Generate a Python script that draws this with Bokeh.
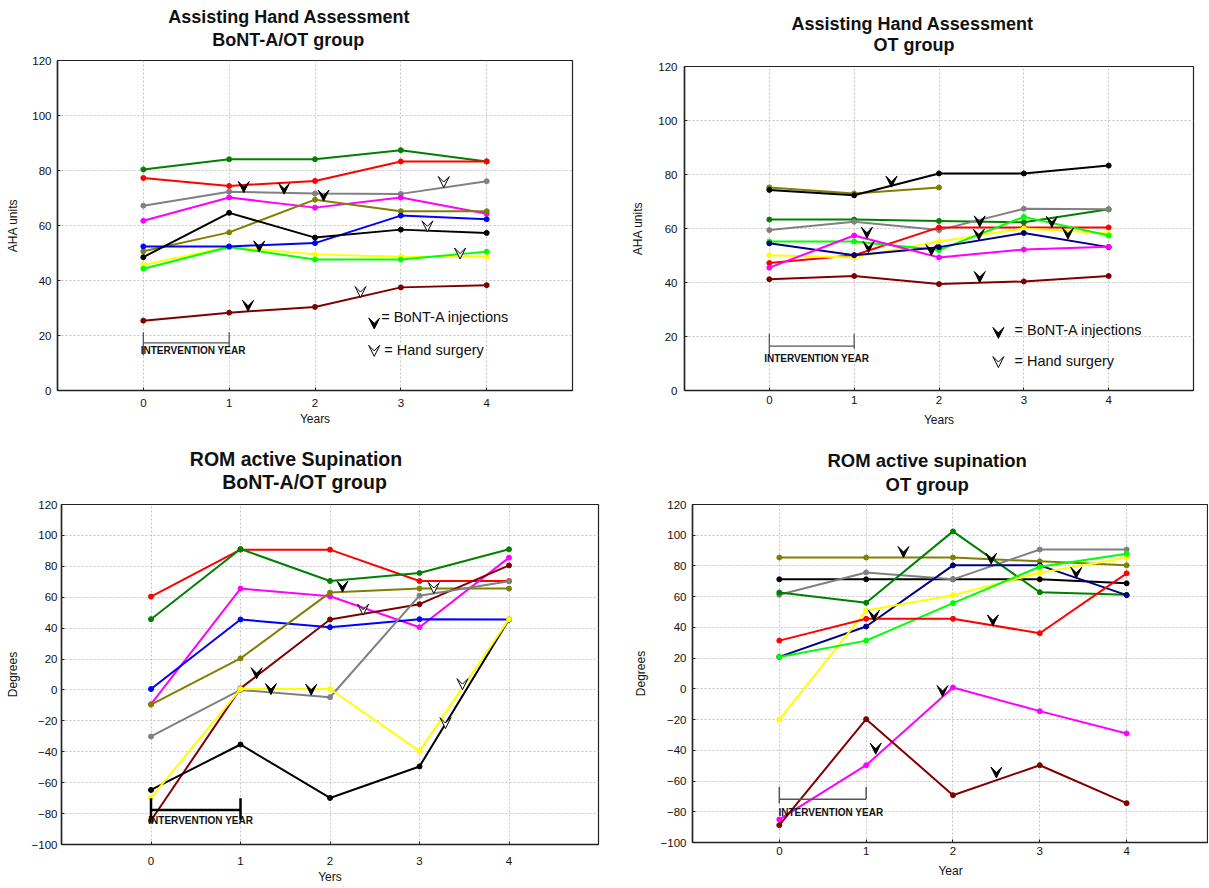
from bokeh.plotting import figure
from bokeh.layouts import column, row
from bokeh.models import Range1d, FixedTicker, Label, Arrow, VeeHead, ColumnDataSource
from bokeh.embed import file_html
from bokeh.resources import INLINE

# ---------------- data ----------------
years = [0, 1, 2, 3, 4]
x_ticks = [0, 1, 2, 3, 4]
aha_ticks = [0, 20, 40, 60, 80, 100, 120]
rom_ticks = [-100, -80, -60, -40, -20, 0, 20, 40, 60, 80, 100, 120]
intervention_year = [0, 1]

# Assisting Hand Assessment, BoNT-A/OT group
aha_bont_gray = [67.2, 72.3, 71.6, 71.5, 76.1]
aha_bont_green = [80.4, 84.1, 84.1, 87.4, 83.3]
aha_bont_red = [77.3, 74.4, 76.2, 83.3, 83.3]
aha_bont_magenta = [61.7, 70.2, 66.5, 70.2, 64.3]
aha_bont_olive = [50.6, 57.5, 69.4, 65.2, 65.2]
aha_bont_yellow = [45.6, 52.3, 49.5, 48.6, 48.6]
aha_bont_lime = [44.3, 52.2, 47.6, 47.6, 50.5]
aha_bont_blue = [52.4, 52.4, 53.6, 63.6, 62.3]
aha_bont_black = [48.5, 64.6, 55.6, 58.5, 57.3]
aha_bont_maroon = [25.4, 28.3, 30.4, 37.5, 38.3]
aha_bont_inj_x = [1.17, 1.64, 2.10, 1.35, 1.22]
aha_bont_inj_y = [72.0, 71.4, 68.9, 50.4, 28.8]
aha_bont_surg_x = [3.50, 3.31, 3.69, 2.53]
aha_bont_surg_y = [73.8, 57.7, 47.8, 33.8]

# Assisting Hand Assessment, OT group
aha_ot_olive = [75.2, 73.0, 75.2]
aha_ot_black = [74.3, 72.3, 80.4, 80.4, 83.3]
aha_ot_green = [63.3, 63.3, 62.8, 62.3, 67.1]
aha_ot_gray = [59.4, 62.5, 59.4, 67.3, 67.1]
aha_ot_red = [47.2, 50.1, 60.4, 60.4, 60.4]
aha_ot_yellow = [50.1, 49.3, 55.2, 60.0, 58.2]
aha_ot_lime = [55.2, 55.2, 52.0, 64.3, 57.4]
aha_ot_navy = [54.5, 50.1, 53.1, 58.3, 53.1]
aha_ot_magenta = [45.5, 57.4, 49.3, 52.2, 53.2]
aha_ot_maroon = [41.2, 42.4, 39.4, 40.4, 42.4]
aha_ot_inj_x = [1.44, 2.48, 3.33, 1.15, 1.17, 1.91, 2.47, 3.52, 2.48]
aha_ot_inj_y = [75.3, 60.6, 60.4, 56.4, 51.1, 50.0, 55.7, 56.1, 40.0]

# ROM active supination, BoNT-A/OT group
rom_bont_red = [60.4, 90.8, 90.8, 70.5, 70.5]
rom_bont_green = [45.8, 91.2, 70.5, 75.7, 91.0]
rom_bont_magenta = [-9.2, 65.6, 60.6, 40.6, 85.6]
rom_bont_blue = [0.6, 45.6, 40.6, 45.8, 45.6]
rom_bont_olive = [-9.5, 20.4, 63.0, 65.6, 65.6]
rom_bont_maroon = [-84.5, 1.0, 45.6, 55.5, 80.6]
rom_bont_gray = [-30.1, 0.0, -4.7, 61.0, 70.3]
rom_bont_black = [-64.7, -35.3, -69.9, -49.5, 45.6]
rom_bont_yellow = [-69.7, 0.6, 0.6, -39.6, 45.8]
rom_bont_inj_x = [2.14, 1.18, 1.34, 1.79]
rom_bont_inj_y = [63.4, 7.3, -3.0, -3.4]
rom_bont_surg_x = [3.16, 2.37, 3.48, 3.29]
rom_bont_surg_y = [62.4, 48.4, 0.2, -25.0]

# ROM active supination, OT group
rom_ot_olive = [85.5, 85.5, 85.5, 83.0, 80.4]
rom_ot_black = [71.3, 71.3, 71.3, 71.3, 68.7]
rom_ot_gray = [61.2, 75.8, 71.3, 90.7, 90.7]
rom_ot_green = [62.7, 56.0, 102.5, 62.9, 61.2]
rom_ot_navy = [20.8, 40.6, 80.4, 80.4, 61.0]
rom_ot_yellow = [-20.0, 51.0, 61.0, 75.6, 85.3]
rom_ot_lime = [20.8, 31.4, 55.8, 79.5, 88.0]
rom_ot_red = [31.4, 45.6, 45.6, 36.2, 75.2]
rom_ot_magenta = [-85.0, -49.7, 0.9, -14.5, -29.0]
rom_ot_maroon = [-88.7, -19.7, -69.2, -49.7, -74.4]
rom_ot_inj_x = [1.43, 2.44, 3.42, 1.09, 2.46, 1.88, 1.11, 2.50]
rom_ot_inj_y = [85.5, 81.2, 72.0, 44.0, 41.0, -5.0, -42.5, -58.0]

# texts
titles_aha_bont = ["Assisting Hand Assessment", "BoNT-A/OT group"]
titles_aha_ot = ["Assisting Hand Assessment", "OT group"]
titles_rom_bont = ["ROM active Supination", "BoNT-A/OT group"]
titles_rom_ot = ["ROM active supination", "OT group"]
legend_inj = "= BoNT-A injections"
legend_surg = "= Hand surgery"
intervention_text = "INTERVENTION YEAR"

# ---------------- styles ----------------
C = dict(green="#008000", red="#ff0000", gray="#808080", magenta="#ff00ff",
         olive="#808000", yellow="#ffff00", lime="#00ff00", blue="#0000ff",
         black="#000000", maroon="#800000", navy="#000080")
FONT = "Liberation Sans"


def title_fig(width, height, borders_lr, lines, lefts, mids, size):
    L, R = borders_lr
    # frame is kept aligned with the panel below; x range maps 1:1 to canvas pixels
    t = figure(width=width, height=height, x_range=Range1d(L, width - R),
               y_range=Range1d(height, 0), toolbar_location=None, title=None,
               output_backend="svg", x_axis_type=None, y_axis_type=None,
               min_border_left=L, min_border_right=R, min_border_top=0,
               min_border_bottom=0)
    t.grid.visible = False
    t.outline_line_color = None
    for txt, lx, my in zip(lines, lefts, mids):
        t.add_layout(Label(x=lx, y=my, text=txt, text_font=FONT,
                           text_font_size=size, text_font_style="bold",
                           text_align="left", text_baseline="middle",
                           text_color="#111111"))
    return t


def panel(width, height, borders, xr, yr, yticks, xlabel, ylabel,
          xstand, xlstand, ystand, ylstand):
    L, R, T, B = borders
    p = figure(width=width, height=height, x_range=Range1d(*xr), y_range=Range1d(*yr),
               toolbar_location=None, output_backend="svg", title=None,
               min_border_left=L, min_border_right=R, min_border_top=T,
               min_border_bottom=B)
    p.xaxis.ticker = FixedTicker(ticks=x_ticks)
    p.yaxis.ticker = FixedTicker(ticks=yticks)
    p.xaxis.axis_label = xlabel
    p.yaxis.axis_label = ylabel
    for ax in p.axis:
        ax.major_label_text_font = FONT
        ax.major_label_text_font_size = "11.5px"
        ax.major_label_text_color = "#111111"
        ax.axis_label_text_font = FONT
        ax.axis_label_text_font_size = "12px"
        ax.axis_label_text_font_style = "normal"
        ax.axis_label_text_color = "#111111"
        ax.major_tick_in = 3
        ax.major_tick_out = 0
        ax.minor_tick_line_color = None
        ax.axis_line_color = "#222222"
        ax.axis_line_width = 1.5
        ax.major_tick_line_color = "#222222"
    p.xaxis.major_label_standoff = xstand
    p.xaxis.axis_label_standoff = xlstand
    p.yaxis.major_label_standoff = ystand
    p.yaxis.axis_label_standoff = ylstand
    p.grid.grid_line_color = "#c4c4c4"
    p.grid.grid_line_dash = "2 2"
    p.grid.grid_line_width = 1
    p.outline_line_color = "#222222"
    p.outline_line_width = 1.2
    return p


def series(p, vals, color):
    xs = years[:len(vals)]
    p.line(xs, vals, line_color=color, line_width=2)
    p.scatter(xs, vals, size=5, fill_color=color, line_color=color)


def arrows(p, xs, ys, filled, px_per_unit):
    dy = 3.0 / px_per_unit
    src = ColumnDataSource(dict(x=list(xs), y=list(ys), y0=[v + dy for v in ys]))
    head = VeeHead(size=11, fill_color="black" if filled else "white",
                   line_color="black", line_width=1)
    p.add_layout(Arrow(end=head, x_start="x", y_start="y0", x_end="x", y_end="y",
                       source=src, line_alpha=0))


def label(p, x, y, text, size, bold=False):
    p.add_layout(Label(x=x, y=y, text=text, text_font=FONT, text_font_size=size,
                       text_font_style="bold" if bold else "normal",
                       text_baseline="middle", text_align="left",
                       text_color="#111111"))


def bracket(p, y_bar, y_top, y_bot0, y_bot1, color, width):
    x0, x1 = intervention_year
    p.segment(x0=[x0, x0, x1], y0=[y_bar, y_top, y_top], x1=[x1, x0, x1],
              y1=[y_bar, y_bot0, y_bot1], line_color=color, line_width=width)


# ---------------- panel 1 ----------------
t1 = title_fig(600, 52, (57, 28), titles_aha_bont, [167.7, 211.7], [16.0, 39.4], "18px")
p1 = panel(600, 388, (57, 28, 8, 50), (-1, 5), (0, 120), aha_ticks, "Years", "AHA units",
           8, 2, 6, 9)
for vals, col in [(aha_bont_gray, "gray"), (aha_bont_green, "green"), (aha_bont_red, "red"),
                  (aha_bont_magenta, "magenta"), (aha_bont_olive, "olive"),
                  (aha_bont_yellow, "yellow"), (aha_bont_lime, "lime"),
                  (aha_bont_blue, "blue"), (aha_bont_black, "black"),
                  (aha_bont_maroon, "maroon")]:
    series(p1, vals, C[col])
arrows(p1, aha_bont_inj_x, aha_bont_inj_y, True, 2.75)
arrows(p1, aha_bont_surg_x, aha_bont_surg_y, False, 2.75)
arrows(p1, [2.69], [22.4], True, 2.75)
arrows(p1, [2.69], [12.4], False, 2.75)
label(p1, 2.773, 26.7, legend_inj, "14.5px")
label(p1, 2.807, 14.9, legend_surg, "14.5px")
bracket(p1, 17.3, 21.2, 12.7, 15.8, "#555555", 1.3)
label(p1, -0.03, 14.4, intervention_text, "10px", bold=True)

# ---------------- panel 2 ----------------
t2 = title_fig(608, 56, (84, 15), titles_aha_ot, [191.0, 273.0], [23.2, 44.7], "18px")
p2 = panel(608, 384, (84, 15, 10, 50), (-1, 5), (0, 120), aha_ticks, "Years", "AHA units",
           5, 6, 7, 10)
for vals, col in [(aha_ot_olive, "olive"), (aha_ot_black, "black"), (aha_ot_green, "green"),
                  (aha_ot_gray, "gray"), (aha_ot_red, "red"), (aha_ot_yellow, "yellow"),
                  (aha_ot_lime, "lime"), (aha_ot_navy, "navy"),
                  (aha_ot_magenta, "magenta"), (aha_ot_maroon, "maroon")]:
    series(p2, vals, C[col])
arrows(p2, aha_ot_inj_x, aha_ot_inj_y, True, 2.7)
arrows(p2, [2.70], [19.3], True, 2.7)
arrows(p2, [2.70], [8.5], False, 2.7)
label(p2, 2.89, 22.3, legend_inj, "14.5px")
label(p2, 2.89, 11.1, legend_surg, "14.5px")
bracket(p2, 16.4, 21.0, 13.5, 15.5, "#555555", 1.3)
label(p2, -0.06, 12.0, intervention_text, "10px", bold=True)

# ---------------- panel 3 ----------------
t3 = title_fig(600, 56, (61, 2), titles_rom_bont, [189.3, 221.7], [18.7, 41.2], "19.5px")
p3 = panel(600, 391, (61, 2, 8, 43), (-1, 5), (-100, 120), rom_ticks, "Yers", "Degrees",
           12, 2, 4, 9)
for vals, col in [(rom_bont_red, "red"), (rom_bont_green, "green"),
                  (rom_bont_magenta, "magenta"), (rom_bont_blue, "blue"),
                  (rom_bont_olive, "olive"), (rom_bont_maroon, "maroon"),
                  (rom_bont_gray, "gray"), (rom_bont_black, "black"),
                  (rom_bont_yellow, "yellow")]:
    series(p3, vals, C[col])
arrows(p3, rom_bont_inj_x, rom_bont_inj_y, True, 1.545)
arrows(p3, rom_bont_surg_x, rom_bont_surg_y, False, 1.545)
bracket(p3, -77.6, -70.0, -84.0, -84.0, "#000000", 2.5)
label(p3, -0.03, -84.4, intervention_text, "10px", bold=True)

# ---------------- panel 4 ----------------
t4 = title_fig(608, 56, (92, 0), titles_rom_ot, [227.0, 285.0], [20.0, 44.0], "18.5px")
p4 = panel(608, 391, (92, 0, 8, 45), (-1, 4.943), (-100, 120), rom_ticks, "Year", "Degrees",
           4, 6, 6, 10)
for vals, col in [(rom_ot_olive, "olive"), (rom_ot_black, "black"), (rom_ot_gray, "gray"),
                  (rom_ot_green, "green"), (rom_ot_navy, "navy"), (rom_ot_yellow, "yellow"),
                  (rom_ot_lime, "lime"), (rom_ot_red, "red"),
                  (rom_ot_magenta, "magenta"), (rom_ot_maroon, "maroon")]:
    series(p4, vals, C[col])
arrows(p4, rom_ot_inj_x, rom_ot_inj_y, True, 1.536)
bracket(p4, -71.8, -63.8, -74.6, -71.8, "#555555", 1.5)
label(p4, -0.01, -80.2, intervention_text, "10px", bold=True)

layout = column(row(column(t1, p1), column(t2, p2)),
                row(column(t3, p3), column(t4, p4)))

open("out.html", "w").write(file_html(layout, INLINE))
